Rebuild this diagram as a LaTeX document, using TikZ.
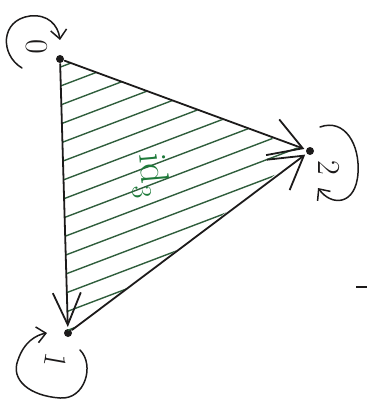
\documentclass[tikz,border=0pt]{standalone}
\usepackage{fontspec}
\usetikzlibrary{arrows.meta}
\definecolor{ink}{HTML}{1C1A1A}
\definecolor{hatch}{HTML}{2F5E3C}
\definecolor{lbl}{HTML}{1E7A3A}
\begin{document}
\begin{tikzpicture}[x=1pt,y=-1pt,
  dot/.style={circle,fill=ink,inner sep=0pt,minimum size=8pt,outer sep=1pt},
  edge/.style={draw=ink,line width=1.8pt,line cap=round,line join=round,
    -{Straight Barb[length=32pt,width=38pt,line width=1.8pt]},shorten >=1pt},
  narrowedge/.style={edge,-{Straight Barb[length=32pt,width=28pt,line width=1.8pt]}},
  loopy/.style={draw=ink,line width=1.5pt,line cap=round,
    -{Straight Barb[length=9pt,width=16pt,line width=1.5pt]}},
  num/.style={text=ink,inner sep=0pt,font=\fontsize{32}{32}\selectfont},
  hatchline/.style={draw=hatch,line width=1.4pt}]
\useasboundingbox (0,0) rectangle (367,406);
% vertices
\node[dot] (v0) at (60,59) {};
\node[dot] (v2) at (310,151) {};
\node[dot] (v1) at (68,333) {};
% hatching
\begin{scope}
\clip (60,59) -- (306,151) -- (68,333) -- cycle;
\foreach \c in {90,109,...,370}
  \draw[hatchline] (40,{\c-15.2}) -- (330,{\c-125.4});
\end{scope}
% edges
\draw[edge] (v0) -- (v2);
\draw[narrowedge] (v0) -- (v1);
\draw[edge] (v1) -- (v2);
% loops
\coordinate (l0s) at (22,68);
\coordinate (l0e) at (60,40);
\draw[loopy] (l0s) .. controls (0,55) and (0,20) .. (30,16)
  .. controls (48,14) and (58,25) .. (l0e);
\coordinate (l2s) at (320,127);
\coordinate (l2e) at (318,188);
\draw[loopy] (l2s) .. controls (345,118) and (360,145) .. (358,173)
  .. controls (356,205) and (332,207) .. (l2e);
\coordinate (l1s) at (80,350);
\coordinate (l1e) at (47,333);
\draw[loopy] (l1s) .. controls (95,365) and (85,400) .. (60,398)
  .. controls (30,396) and (10,380) .. (18,360)
  .. controls (24,342) and (36,335) .. (l1e);
% labels
\node[num,rotate=-90] (t0) at (37,47) {0};
\node[num,rotate=-90] (t2) at (329,168) {2};
\node[num,rotate=-100] (t1) at (56,361) {1};
\node[text=lbl,inner sep=0pt,rotate=-85,font=\fontsize{40}{40}\selectfont] (tid) at (150,176) {id\textsubscript{3}};
% stray dash
\coordinate (d1) at (356,287);
\coordinate (d2) at (367,287);
\draw[ink,line width=1.6pt] (d1) -- (d2);
\end{tikzpicture}
\end{document}
